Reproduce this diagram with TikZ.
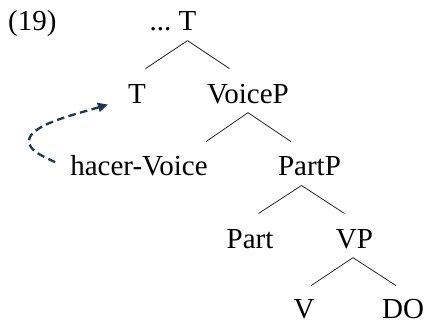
\documentclass[tikz,border=0pt]{standalone}
\usepackage{fontspec}
\setmainfont{Liberation Serif}
\usetikzlibrary{arrows.meta}
\definecolor{navy}{HTML}{1F3552}
\tikzset{
  lbl/.style={anchor=base, inner sep=0pt, font=\fontsize{29}{34}\selectfont},
  branch/.style={line width=0.8pt, draw=black!85},
  mv/.style={navy, line width=2.3pt, dash pattern=on 7.5pt off 4.5pt, -{Triangle[length=10pt,width=9pt]}}
}
\begin{document}
\begin{tikzpicture}[x=1pt,y=-1pt]
\useasboundingbox (0,0) rectangle (425,324);
\node[lbl, anchor=base west] (ex) at (8,30) {(19)};
\node[lbl] (top) at (187.5,30) {\makebox[0pt][r]{...\ }T};
\node[lbl] (t) at (137,103) {T};
\node[lbl] (voicep) at (248,103) {VoiceP};
\node[lbl] (hac) at (139,175) {hacer-Voice};
\node[lbl] (partp) at (309.5,175) {PartP};
\node[lbl] (part) at (250,248) {Part};
\node[lbl] (vp) at (354.5,248) {VP};
\node[lbl] (v) at (304,318) {V};
\node[lbl] (do) at (403,318) {DO};
% branches
\draw[branch] ([yshift=-10pt]top.south) coordinate (a1) -- ++(-42,28);
\draw[branch] (a1) -- ++(42,28);
\draw[branch] ([yshift=-9pt]voicep.south) coordinate (a2) -- ++(-42,29);
\draw[branch] (a2) -- ++(43,29);
\draw[branch] ([xshift=-8pt,yshift=-10pt]partp.south) coordinate (a3) -- ++(-43,28);
\draw[branch] (a3) -- ++(43,28);
\draw[branch] ([xshift=-1.5pt,yshift=-9pt]vp.south) coordinate (a4) -- ++(-42,28);
\draw[branch] (a4) -- ++(43,28);
% movement arrow
\coordinate (bend) at (29,141);
\draw[mv] ([xshift=-15pt,yshift=3pt]hac.west) .. controls +(-15,-7) and +(0,9) .. (bend)
  .. controls +(0,-16) and +(-33,10) .. ([xshift=-20pt,yshift=-11pt]t.west);
\end{tikzpicture}
\end{document}
